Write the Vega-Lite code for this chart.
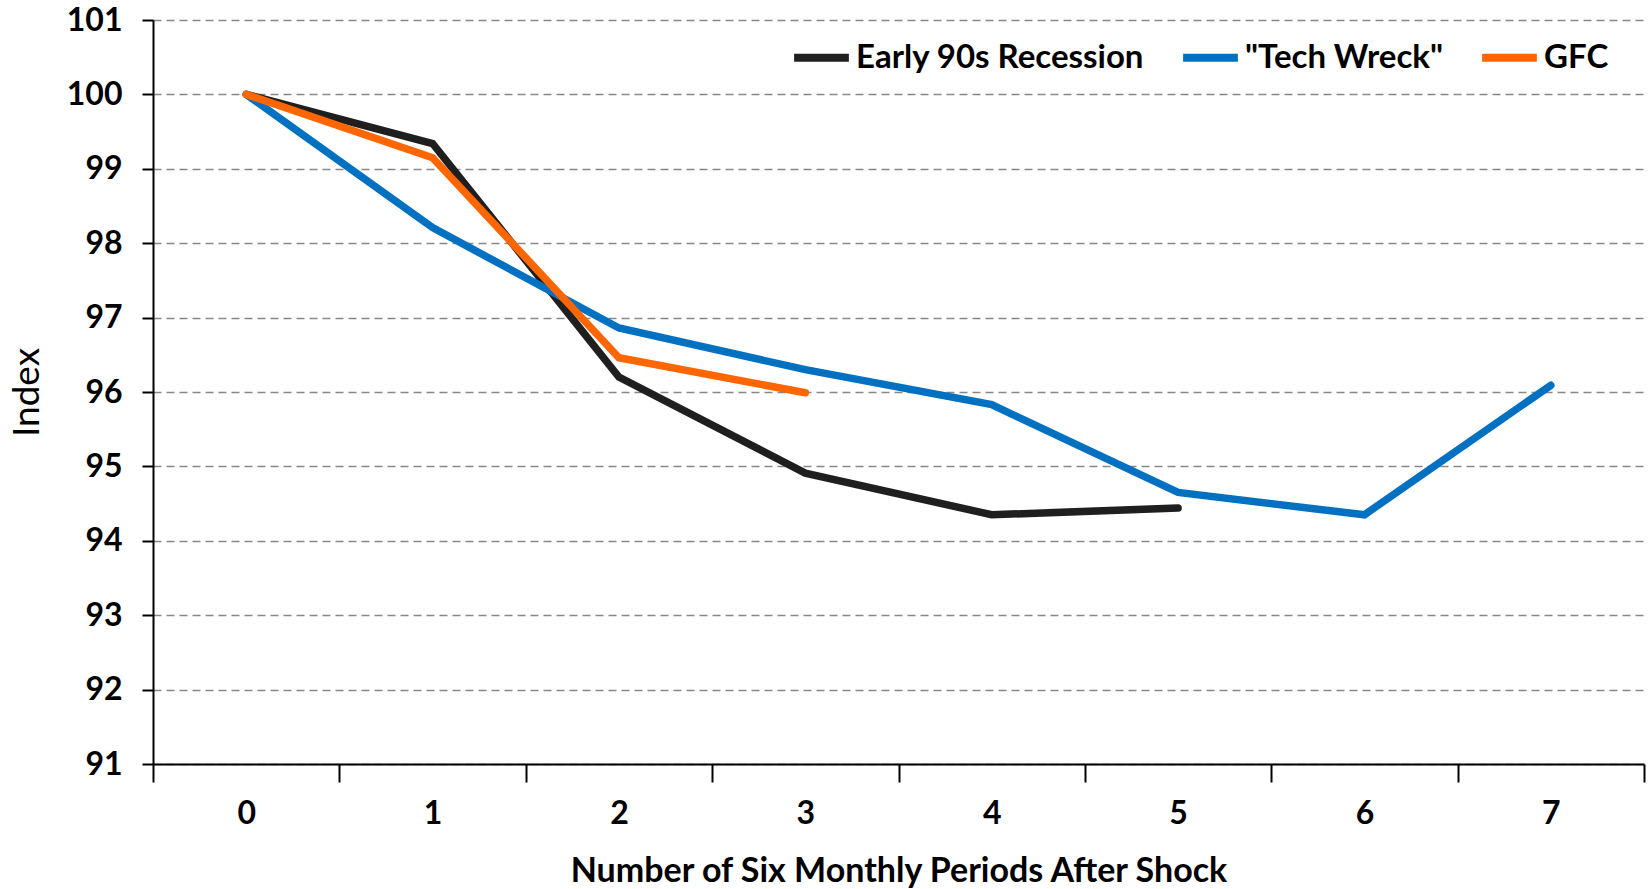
{
  "$schema": "https://vega.github.io/schema/vega-lite/v6.json",
  "width": 1491,
  "height": 744,
  "autosize": {"type": "none"},
  "padding": {"left": 153, "top": 20, "right": 4, "bottom": 125},
  "background": "white",
  "config": {
    "view": {"stroke": null},
    "font": "Lato"
  },
  "data": {
    "values": [
      {"period": 0, "series": "Early 90s Recession", "value": 100},
      {"period": 1, "series": "Early 90s Recession", "value": 99.34},
      {"period": 2, "series": "Early 90s Recession", "value": 96.2},
      {"period": 3, "series": "Early 90s Recession", "value": 94.91},
      {"period": 4, "series": "Early 90s Recession", "value": 94.35},
      {"period": 5, "series": "Early 90s Recession", "value": 94.44},
      {"period": 0, "series": "\"Tech Wreck\"", "value": 100},
      {"period": 1, "series": "\"Tech Wreck\"", "value": 98.21},
      {"period": 2, "series": "\"Tech Wreck\"", "value": 96.86},
      {"period": 3, "series": "\"Tech Wreck\"", "value": 96.3},
      {"period": 4, "series": "\"Tech Wreck\"", "value": 95.83},
      {"period": 5, "series": "\"Tech Wreck\"", "value": 94.65},
      {"period": 6, "series": "\"Tech Wreck\"", "value": 94.35},
      {"period": 7, "series": "\"Tech Wreck\"", "value": 96.09},
      {"period": 0, "series": "GFC", "value": 100},
      {"period": 1, "series": "GFC", "value": 99.15},
      {"period": 2, "series": "GFC", "value": 96.46},
      {"period": 3, "series": "GFC", "value": 95.99}
    ]
  },
  "mark": {"type": "line", "strokeWidth": 7.5, "strokeCap": "round", "strokeJoin": "miter"},
  "encoding": {
    "x": {
      "field": "period",
      "type": "ordinal",
      "bandPosition": 0.5,
      "scale": {"type": "band", "paddingInner": 0, "paddingOuter": 0},
      "axis": {
        "title": "Number of Six Monthly Periods After Shock",
        "titleFont": "Lato",
        "titleFontSize": 34,
        "titleFontWeight": "bold",
        "titleColor": "black",
        "titlePadding": 25,
        "labelFont": "Lato",
        "labelFontSize": 32,
        "labelFontWeight": "bold",
        "labelColor": "black",
        "labelAngle": 0,
        "labelPadding": 16,
        "tickBand": "extent",
        "tickSize": 18,
        "tickWidth": 2,
        "tickColor": "black",
        "domainColor": "black",
        "domainWidth": 2,
        "grid": false
      }
    },
    "y": {
      "field": "value",
      "type": "quantitative",
      "scale": {"domain": [91, 101], "zero": false, "nice": false},
      "axis": {
        "title": "Index",
        "titleFont": "Lato",
        "titleFontSize": 37,
        "titleFontWeight": "normal",
        "titleColor": "black",
        "titlePadding": 20,
        "values": [91, 92, 93, 94, 95, 96, 97, 98, 99, 100, 101],
        "labelFont": "Lato",
        "labelFontSize": 32,
        "labelFontWeight": "bold",
        "labelColor": "black",
        "labelPadding": 20,
        "tickSize": 11,
        "tickWidth": 2,
        "tickColor": "black",
        "domainColor": "black",
        "domainWidth": 2,
        "grid": true,
        "gridColor": "#888888",
        "gridDash": [8, 5],
        "gridWidth": 1.5
      }
    },
    "color": {
      "field": "series",
      "type": "nominal",
      "sort": ["Early 90s Recession", "\"Tech Wreck\"", "GFC"],
      "scale": {
        "domain": ["Early 90s Recession", "\"Tech Wreck\"", "GFC"],
        "range": ["#1f1f1f", "#0070c0", "#ff6600"]
      },
      "legend": {
        "title": null,
        "orient": "none",
        "direction": "horizontal",
        "legendX": 637,
        "legendY": 6,
        "symbolType": "stroke",
        "symbolSize": 3000,
        "symbolStrokeWidth": 8,
        "labelFont": "Lato",
        "labelFontSize": 33,
        "labelFontWeight": "bold",
        "labelColor": "black",
        "labelOffset": 3,
        "columnPadding": 22,
        "labelLimit": 400
      }
    }
  }
}
